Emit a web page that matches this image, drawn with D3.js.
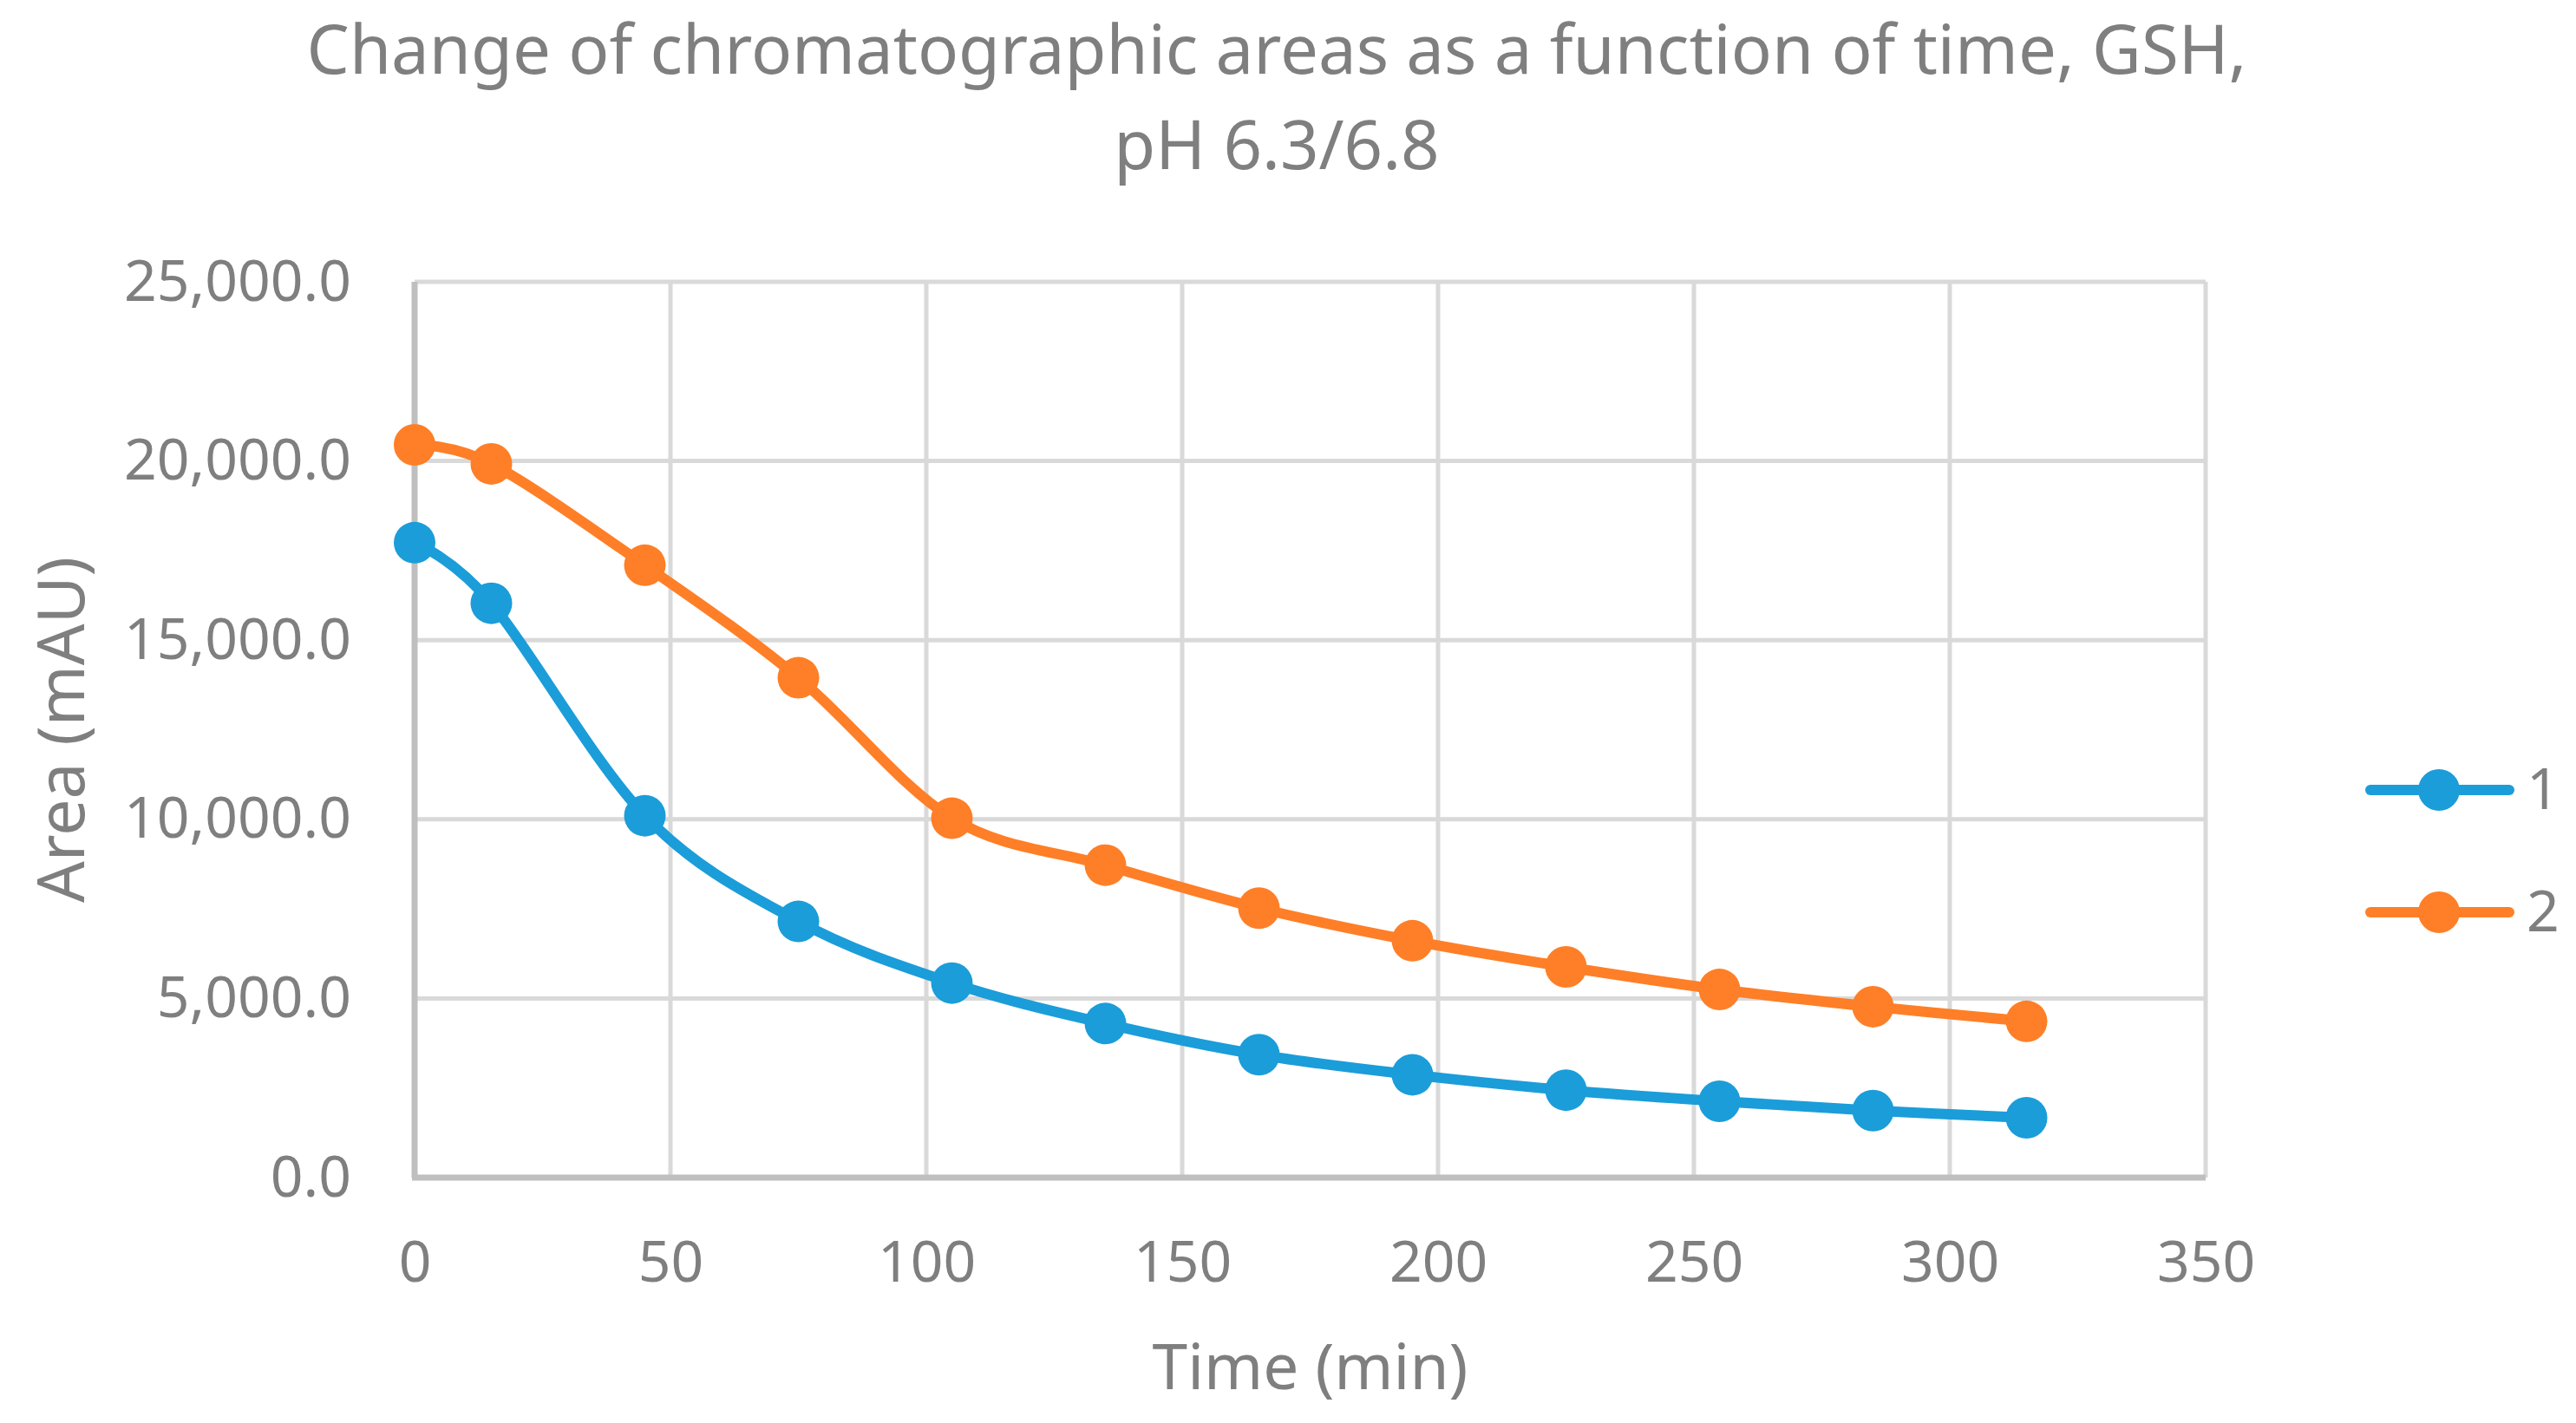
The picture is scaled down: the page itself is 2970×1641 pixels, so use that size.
<!DOCTYPE html>
<html>
<head>
<meta charset="utf-8">
<script src="https://cdn.jsdelivr.net/npm/d3@7"></script>
<style>
  body { margin: 0; background: #fff; }
  text { font-family: "Noto Sans", "Open Sans", sans-serif; fill: #7f7f7f; }
</style>
</head>
<body>
<div id="chart"></div>
<script>
var width = 2970;
var height = 1641;

// data
var times = [0, 15, 45, 75, 105, 135, 165, 195, 225, 255, 285, 315];
var series1 = [17720, 16030, 10100, 7150, 5430, 4300, 3430, 2870, 2440, 2130, 1870, 1670];
var series2 = [20450, 19920, 17090, 13950, 10030, 8720, 7520, 6610, 5880, 5250, 4770, 4360];
var seriesNames = ['1', '2'];
var xTicks = [0, 50, 100, 150, 200, 250, 300, 350];
var yTicks = [0, 5000, 10000, 15000, 20000, 25000];

var colors = ['#1b9dd9', '#fe7f27'];
var gridColour = '#d9d9d9';
var axisColour = '#bfbfbf';
var lineWidth = 12;
var markerRadius = 24;

var plot = { left: 478, right: 2543, top: 325, bottom: 1358 };

var x = d3.scaleLinear().domain([0, 350]).range([plot.left, plot.right]);
var y = d3.scaleLinear().domain([0, 25000]).range([plot.bottom, plot.top]);

var svg = d3.select('#chart')
  .append('svg')
  .attr('width', width)
  .attr('height', height);

// gridlines
svg.append('g')
  .selectAll('line')
  .data(yTicks.slice(1))
  .enter()
  .append('line')
  .attr('x1', plot.left)
  .attr('x2', plot.right)
  .attr('y1', function (d) { return y(d); })
  .attr('y2', function (d) { return y(d); })
  .attr('stroke', gridColour)
  .attr('stroke-width', 5);

svg.append('g')
  .selectAll('line')
  .data(xTicks.slice(1))
  .enter()
  .append('line')
  .attr('x1', function (d) { return x(d); })
  .attr('x2', function (d) { return x(d); })
  .attr('y1', plot.top)
  .attr('y2', plot.bottom)
  .attr('stroke', gridColour)
  .attr('stroke-width', 5);

// axes
var xAxis = d3.axisBottom(x).tickValues(xTicks).tickSize(0).tickPadding(73).tickFormat(d3.format('d'));
var yAxis = d3.axisLeft(y).tickValues(yTicks).tickSize(0).tickPadding(73).tickFormat(d3.format(',.1f'));

var gx = svg.append('g')
  .attr('transform', 'translate(0,' + plot.bottom + ')')
  .call(xAxis);
gx.select('.domain').remove();
gx.selectAll('text').attr('font-size', 66).attr('fill', '#7f7f7f').attr('font-family', '"Noto Sans", sans-serif');

var gy = svg.append('g')
  .attr('transform', 'translate(' + plot.left + ',0)')
  .call(yAxis);
gy.select('.domain').remove();
gy.selectAll('text').attr('font-size', 66).attr('fill', '#7f7f7f').attr('font-family', '"Noto Sans", sans-serif');

svg.append('line')
  .attr('x1', plot.left).attr('x2', plot.left)
  .attr('y1', plot.top).attr('y2', plot.bottom)
  .attr('stroke', axisColour).attr('stroke-width', 7);

svg.append('line')
  .attr('x1', plot.left - 3).attr('x2', plot.right)
  .attr('y1', plot.bottom).attr('y2', plot.bottom)
  .attr('stroke', axisColour).attr('stroke-width', 7);

// series
var lineGen = d3.line()
  .x(function (d) { return x(d.t); })
  .y(function (d) { return y(d.v); })
  .curve(d3.curveCardinal.tension(0));

[series1, series2].forEach(function (values, s) {
  var pts = times.map(function (t, i) { return { t: t, v: values[i] }; });
  var g = svg.append('g');
  g.append('path')
    .datum(pts)
    .attr('d', lineGen)
    .attr('fill', 'none')
    .attr('stroke', colors[s])
    .attr('stroke-width', lineWidth)
    .attr('stroke-linecap', 'round')
    .attr('stroke-linejoin', 'round');
  g.selectAll('circle')
    .data(pts)
    .enter()
    .append('circle')
    .attr('cx', function (d) { return x(d.t); })
    .attr('cy', function (d) { return y(d.v); })
    .attr('r', markerRadius)
    .attr('fill', colors[s]);
});

// legend
var legend = svg.append('g')
  .selectAll('g')
  .data(seriesNames)
  .enter()
  .append('g')
  .attr('transform', function (d, i) { return 'translate(0,' + (911 + i * 141) + ')'; });

legend.append('line')
  .attr('x1', 2733).attr('x2', 2893)
  .attr('y1', 0).attr('y2', 0)
  .attr('stroke', function (d, i) { return colors[i]; })
  .attr('stroke-width', lineWidth)
  .attr('stroke-linecap', 'round');

legend.append('circle')
  .attr('cx', 2812).attr('cy', 0)
  .attr('r', markerRadius)
  .attr('fill', function (d, i) { return colors[i]; });

legend.append('text')
  .attr('x', 2913).attr('y', 22)
  .attr('font-size', 66)
  .text(function (d) { return d; });

// titles
var title = svg.append('text')
  .attr('text-anchor', 'middle')
  .attr('font-size', 78);
title.append('tspan').attr('x', 1472).attr('y', 85)
  .text('Change of chromatographic areas as a function of time, GSH,');
title.append('tspan').attr('x', 1472).attr('y', 195)
  .text('pH 6.3/6.8');

svg.append('text')
  .attr('text-anchor', 'middle')
  .attr('font-size', 73)
  .attr('x', (plot.left + plot.right) / 2)
  .attr('y', 1602)
  .text('Time (min)');

svg.append('text')
  .attr('text-anchor', 'middle')
  .attr('font-size', 75)
  .attr('transform', 'translate(97,' + (plot.top + plot.bottom) / 2 + ') rotate(-90)')
  .text('Area (mAU)');
</script>
</body>
</html>
